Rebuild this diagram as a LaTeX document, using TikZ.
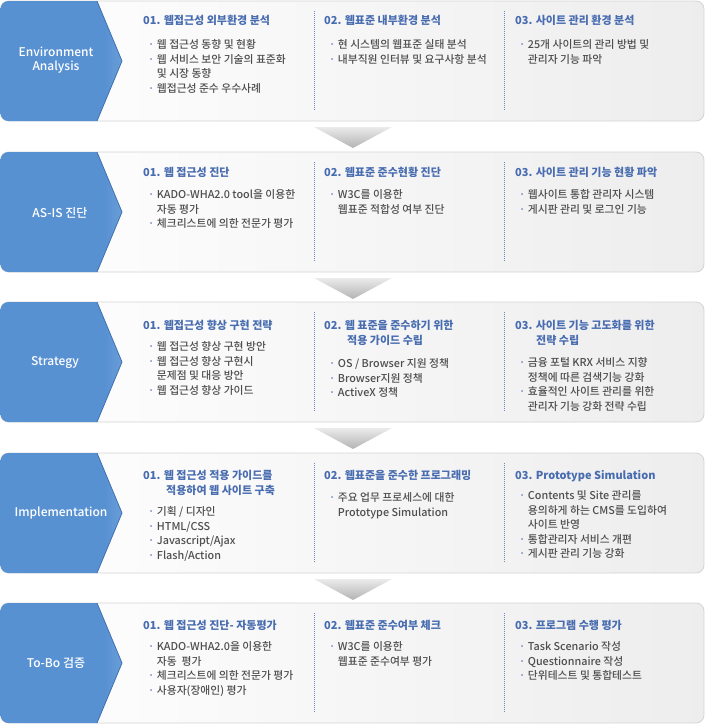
\documentclass[tikz,border=0pt]{standalone}
\usepackage{fontspec}
\setmainfont{Noto Sans CJK KR}
\newfontfamily\bodyfont{Noto Sans CJK KR Medium}

\definecolor{titleblue}{RGB}{72,108,176}
\definecolor{bodygray}{RGB}{78,78,78}
\definecolor{dotblue}{RGB}{90,122,182}
\definecolor{sepblue}{RGB}{110,135,192}
\definecolor{boxgray}{RGB}{212,212,212}
\definecolor{lblueA}{RGB}{88,145,210}
\definecolor{lblueB}{RGB}{165,200,238}
\definecolor{tipblue}{RGB}{62,112,178}

\pgfdeclarehorizontalshading{labelblue}{100bp}{color(0bp)=(lblueA); color(68bp)=(lblueA); color(100bp)=(lblueB)}

\newcommand{\bpt}{\textcolor{dotblue}{·}\hspace{2.5pt}}
\newcommand{\bcont}{\phantom{·}\hspace{2.5pt}}

\tikzset{
  rowbox/.style={draw=boxgray, line width=0.8pt, left color=white, right color=black!7},
  sepline/.style={sepblue, dash pattern=on 0.8pt off 1.2pt, line width=0.6pt},
  stagelabel/.style={text=white, align=center, font=\bodyfont\fontsize{12}{14.5}\selectfont},
  coltitle/.style={anchor=north west, inner sep=0pt, align=left, text=titleblue, font=\bfseries\fontsize{11}{15}\selectfont},
  blist/.style={anchor=north west, inner sep=0pt, align=left, text=bodygray, font=\bodyfont\fontsize{10.8}{14.6}\selectfont}
}

\begin{document}
\begin{tikzpicture}[x=1pt, y=-1pt]
\useasboundingbox (0,0) rectangle (705,724);

% rows
\foreach \t in {1,152,302,453,603} {
  \draw[rowbox, rounded corners=8pt] (0.5,\t) rectangle (704,\t+120);
  \begin{scope}
    \clip[rounded corners=8pt] (0.5,\t) rectangle (704,\t+120);
    \shade[shading=labelblue] (0,\t) -- (97,\t) -- (122,\t+60) -- (97,\t+120) -- (0,\t+120) -- cycle;
    \draw[tipblue, line width=0.8pt] (97,\t) -- (122,\t+60) -- (97,\t+120);
  \end{scope}
  \draw[sepline] (314,\t+10) -- (314,\t+109);
  \draw[sepline] (504,\t+10) -- (504,\t+109);
}
% chevrons between rows
\foreach \t in {1,152,302,453} {
  \shade[top color=black!8, bottom color=black!30] (314,\t+126) -- (392,\t+126) -- (353,\t+147) -- cycle;
}

% Environment Analysis
\node (envLabel) at (56,60) [stagelabel] {Environment\\Analysis};
\node (envT1) at (143,15.3) [coltitle] {01. 웹접근성 외부환경 분석};
\node (envB1) at (148,39.3) [blist] {\bpt 웹 접근성 동향 및 현황\\\bpt 웹 서비스 보안 기술의 표준화\\\bcont 및 시장 동향\\\bpt 웹접근성 준수 우수사례};
\node (envT2) at (324,15.3) [coltitle] {02. 웹표준 내부환경 분석};
\node (envB2) at (329,39.3) [blist] {\bpt 현 시스템의 웹표준 실태 분석\\\bpt 내부직원 인터뷰 및 요구사항 분석};
\node (envT3) at (515,15.3) [coltitle] {03. 사이트 관리 환경 분석};
\node (envB3) at (519,39.3) [blist] {\bpt 25개 사이트의 관리 방법 및\\\bcont 관리자 기능 파악};

% AS-IS
\node (asisLabel) at (60,213) [stagelabel] {AS-IS 진단};
\node (asisT1) at (143,167.3) [coltitle] {01. 웹 접근성 진단};
\node (asisB1) at (148,189.3) [blist] {\bpt KADO-WHA2.0 tool을 이용한\\\bcont 자동 평가\\\bpt 체크리스트에 의한 전문가 평가};
\node (asisT2) at (324,167.3) [coltitle] {02. 웹표준 준수현황 진단};
\node (asisB2) at (329,189.3) [blist] {\bpt W3C를 이용한\\\bcont 웹표준 적합성 여부 진단};
\node (asisT3) at (515,167.3) [coltitle] {03. 사이트 관리 기능 현황 파악};
\node (asisB3) at (519,189.3) [blist] {\bpt 웹사이트 통합 관리자 시스템\\\bpt 게시판 관리 및 로그인 기능};

% Strategy
\node (stratLabel) at (55,362) [stagelabel] {Strategy};
\node (stratT1) at (143,320.3) [coltitle] {01. 웹접근성 향상 구현 전략};
\node (stratB1) at (148,341.3) [blist] {\bpt 웹 접근성 향상 구현 방안\\\bpt 웹 접근성 향상 구현시\\\bcont 문제점 및 대응 방안\\\bpt 웹 접근성 향상 가이드};
\node (stratT2) at (324,320.3) [coltitle] {02. 웹 표준을 준수하기 위한\\\hspace*{23pt}적용 가이드 수립};
\node (stratB2) at (329,358.3) [blist] {\bpt OS / Browser 지원 정책\\\bpt Browser지원 정책\\\bpt ActiveX 정책};
\node (stratT3) at (515,320.3) [coltitle] {03. 사이트 기능 고도화를 위한\\\hspace*{21pt}전략 수립};
\node (stratB3) at (519,357.3) [blist] {\bpt 금융 포털 KRX 서비스 지향\\\bcont 정책에 따른 검색기능 강화\\\bpt 효율적인 사이트 관리를 위한\\\bcont 관리자 기능 강화 전략 수립};

% Implementation
\node (implLabel) at (61,513) [stagelabel] {Implementation};
\node (implT1) at (143,470.3) [coltitle] {01. 웹 접근성 적용 가이드를\\\hspace*{23pt}적용하여 웹 사이트 구축};
\node (implB1) at (148,506.3) [blist] {\bpt 기획 / 디자인\\\bpt HTML/CSS\\\bpt Javascript/Ajax\\\bpt Flash/Action};
\node (implT2) at (324,470.3) [coltitle] {02. 웹표준을 준수한 프로그래밍};
\node (implB2) at (329,492.3) [blist] {\bpt 주요 업무 프로세스에 대한\\\bcont Prototype Simulation};
\node (implT3) at (515,470.3) [coltitle] {03. Prototype Simulation};
\node (implB3) at (519,490.3) [blist] {\bpt Contents 및 Site 관리를\\\bcont 용의하게 하는 CMS를 도입하여\\\bcont 사이트 반영\\\bpt 통합관리자 서비스 개편\\\bpt 게시판 관리 기능 강화};

% To-Bo
\node (tobeLabel) at (56,663) [stagelabel] {To-Bo 검증};
\node (tobeT1) at (143,620.3) [coltitle] {01. 웹 접근성 진단- 자동평가};
\node (tobeB1) at (148,641.3) [blist] {\bpt KADO-WHA2.0을 이용한\\\bcont 자동\ \ 평가\\\bpt 체크리스트에 의한 전문가 평가\\\bpt 사용자(장애인) 평가};
\node (tobeT2) at (324,620.3) [coltitle] {02. 웹표준 준수여부 체크};
\node (tobeB2) at (329,641.3) [blist] {\bpt W3C를 이용한\\\bcont 웹표준 준수여부 평가};
\node (tobeT3) at (515,620.3) [coltitle] {03. 프로그램 수행 평가};
\node (tobeB3) at (519,641.3) [blist] {\bpt Task Scenario 작성\\\bpt Questionnaire 작성\\\bpt 단위테스트 및 통합테스트};
\end{tikzpicture}
\end{document}
